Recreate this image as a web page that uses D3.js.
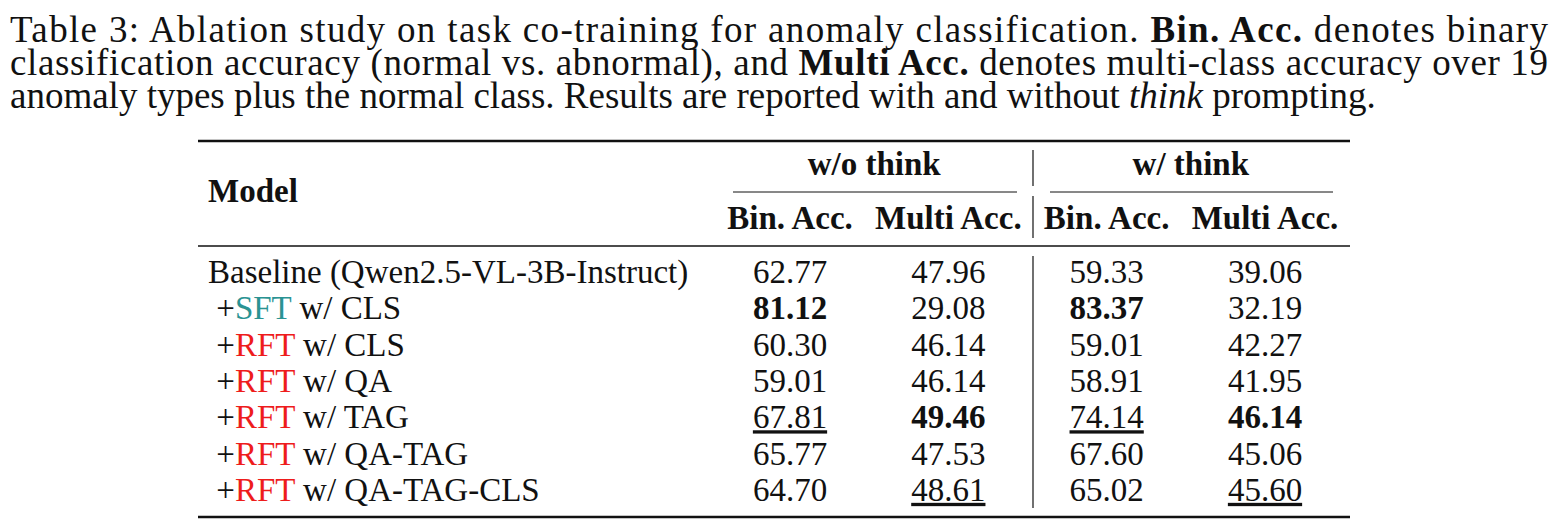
<!DOCTYPE html>
<html>
<head>
<meta charset="utf-8">
<script src="https://cdn.jsdelivr.net/npm/d3@7"></script>
<style>
body { margin: 0; background: #fff; }
svg text { font-family: "Liberation Serif", "DejaVu Serif", serif; fill: #111; }
</style>
</head>
<body>
<div id="chart"></div>
<script>
// table data
const models = [
  ["Baseline (Qwen2.5-VL-3B-Instruct)", null, ""],
  [" +", "SFT", " w/ CLS"],
  [" +", "RFT", " w/ CLS"],
  [" +", "RFT", " w/ QA"],
  [" +", "RFT", " w/ TAG"],
  [" +", "RFT", " w/ QA-TAG"],
  [" +", "RFT", " w/ QA-TAG-CLS"]
];
const columns = ["Bin. Acc.", "Multi Acc.", "Bin. Acc.", "Multi Acc."];
const groups = ["w/o think", "w/ think"];
const values = [
  [62.77, 47.96, 59.33, 39.06],
  [81.12, 29.08, 83.37, 32.19],
  [60.30, 46.14, 59.01, 42.27],
  [59.01, 46.14, 58.91, 41.95],
  [67.81, 49.46, 74.14, 46.14],
  [65.77, 47.53, 67.60, 45.06],
  [64.70, 48.61, 65.02, 45.60]
];
// b = best (bold), u = second (underline)
const marks = [
  ["", "", "", ""],
  ["b", "", "b", ""],
  ["", "", "", ""],
  ["", "", "", ""],
  ["u", "b", "u", "b"],
  ["", "", "", ""],
  ["", "u", "", "u"]
];
const tagColor = { SFT: "#2a9393", RFT: "#ee1c1c" };

const width = 1561, height = 526;
const svg = d3.select("#chart").append("svg")
  .attr("width", width).attr("height", height);

// caption
const cap = svg.append("g").attr("font-size", 37);
const l1 = cap.append("text").attr("x", 10).attr("y", 42)
  .attr("textLength", 1538);
l1.append("tspan").text("Table 3: Ablation study on task co-training for anomaly classification. ");
l1.append("tspan").attr("font-weight", "bold").text("Bin. Acc.");
l1.append("tspan").text(" denotes binary");
const l2 = cap.append("text").attr("x", 10).attr("y", 75)
  .attr("textLength", 1538);
l2.append("tspan").text("classification accuracy (normal vs. abnormal), and ");
l2.append("tspan").attr("font-weight", "bold").text("Multi Acc.");
l2.append("tspan").text(" denotes multi-class accuracy over 19");
const l3 = cap.append("text").attr("x", 10).attr("y", 108);
l3.append("tspan").text("anomaly types plus the normal class. Results are reported with and without ");
l3.append("tspan").attr("font-style", "italic").text("think");
l3.append("tspan").text(" prompting.");

// scales
const x = d3.scalePoint().domain(d3.range(columns.length)).range([790, 1265]);
const y = d3.scaleBand().domain(d3.range(models.length)).range([254, 508]);
const left = 198, right = 1350, sep = 1033;

const t = svg.append("g").attr("font-size", 33);

// rules
const rule = (y0, x0, x1, w) => t.append("line").attr("x1", x0).attr("x2", x1)
  .attr("y1", y0).attr("y2", y0).attr("stroke", "#111").attr("stroke-width", w);
rule(141, left, right, 2.5);
rule(246, left, right, 1.5);
rule(517, left, right, 2.5);
rule(192, 733, 1017, 1);
rule(192, 1050, 1333, 1);
[[150, 186], [196, 238], [256, 508]].forEach(([a, b]) =>
  t.append("line").attr("x1", sep).attr("x2", sep).attr("y1", a).attr("y2", b)
    .attr("stroke", "#111").attr("stroke-width", 1.2));

// headers
t.append("text").attr("x", 208).attr("y", 202).attr("font-weight", "bold").text("Model");
groups.forEach((g, i) => t.append("text")
  .attr("x", (x(i * 2) + x(i * 2 + 1)) / 2 + (i ? 5 : 5)).attr("y", 175)
  .attr("text-anchor", "middle").attr("font-weight", "bold").text(g));
columns.forEach((c, i) => t.append("text").attr("x", x(i)).attr("y", 229)
  .attr("text-anchor", "middle").attr("font-weight", "bold").text(c));

// rows
models.forEach((m, r) => {
  const by = y(r) + y.bandwidth() / 2 + 11;
  const txt = t.append("text").attr("x", 208).attr("y", by).attr("xml:space", "preserve");
  txt.append("tspan").text(m[0]);
  if (m[1]) txt.append("tspan").attr("fill", tagColor[m[1]]).style("fill", tagColor[m[1]]).text(m[1]);
  if (m[2]) txt.append("tspan").text(m[2]);
  values[r].forEach((v, c) => {
    const mk = marks[r][c];
    t.append("text").attr("x", x(c)).attr("y", by).attr("text-anchor", "middle")
      .attr("font-weight", mk === "b" ? "bold" : "normal")
      .attr("text-decoration", mk === "u" ? "underline" : null)
      .style("text-decoration", mk === "u" ? "underline" : null)
      .text(v.toFixed(2));
  });
});
</script>
</body>
</html>
